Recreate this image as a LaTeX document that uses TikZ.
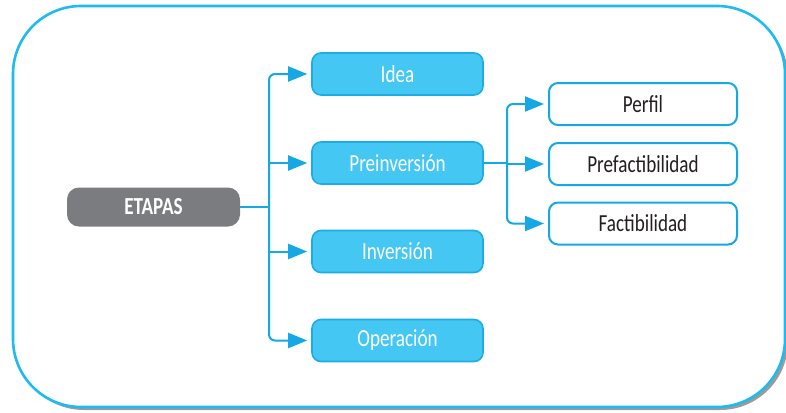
\documentclass[tikz,border=0pt]{standalone}
\usepackage{fontspec}
\setmainfont[FakeStretch=0.78]{Carlito}
\usetikzlibrary{arrows.meta,shadows}
\definecolor{frameblue}{HTML}{1DBBEF}
\definecolor{lineblue}{HTML}{16A8E4}
\definecolor{boxfill}{HTML}{45C7F4}
\definecolor{boxedge}{HTML}{1AADE6}
\definecolor{etgray}{HTML}{7B7C7F}
\definecolor{txt}{HTML}{231F20}
\tikzset{
  frame/.style={draw=frameblue, line width=2.6pt, fill=white, rounded corners=68pt,
    drop shadow={shadow xshift=3pt, shadow yshift=-3pt, opacity=0.6, fill=black!65}},
  bluebox/.style={draw=boxedge, line width=1.6pt, fill=boxfill, rounded corners=9pt,
    minimum width=171pt, minimum height=42pt, inner sep=0pt, text=white, font=\fontsize{24.5}{26}\selectfont},
  whitebox/.style={draw=lineblue, line width=2pt, fill=white, rounded corners=9pt,
    minimum width=188pt, minimum height=42pt, inner sep=0pt, text=txt, font=\fontsize{24.5}{26}\selectfont},
  graybox/.style={fill=etgray, rounded corners=12pt, minimum width=173pt, minimum height=39pt,
    inner sep=0pt, text=white, font=\fontsize{24.5}{26}\selectfont\bfseries},
  conn/.style={draw=lineblue, line width=2pt, rounded corners=6pt},
  arr/.style={conn, -{Triangle[length=19pt,width=15pt]}, shorten >=4pt}
}
\begin{document}
\begin{tikzpicture}[x=1pt,y=-1pt]
\useasboundingbox (0,0) rectangle (786,412);
\path[frame] (13,6) rectangle (785,407);

\node[graybox] (etapas) at (153.5,207) {ETAPAS};
\node[bluebox] (idea) at (397.5,74) {Idea};
\node[bluebox] (pre) at (397.5,163) {Preinversión};
\node[bluebox] (inv) at (397.5,251.5) {Inversión};
\node[bluebox] (oper) at (397.5,340.5) {Operación};

\node[whitebox] (perfil) at (643,104) {Perfil};
\node[whitebox] (prefac) at (643,164) {Prefactibilidad};
\node[whitebox] (fac) at (643,223.5) {Factibilidad};

\coordinate (t1) at (269,207);
\coordinate (t2) at (507,163);

\draw[conn] (etapas.east) -- (t1);
\draw[arr] (t1) |- (idea.west);
\draw[arr] (t1) |- (oper.west);
\draw[arr] (t1 |- pre.west) -- (pre.west);
\draw[arr] (t1 |- inv.west) -- (inv.west);

\draw[conn] (pre.east) -- (t2);
\draw[arr] (t2) |- (perfil.west);
\draw[arr] (t2) |- (fac.west);
\draw[arr] (t2 |- prefac.west) -- (prefac.west);
\end{tikzpicture}
\end{document}
